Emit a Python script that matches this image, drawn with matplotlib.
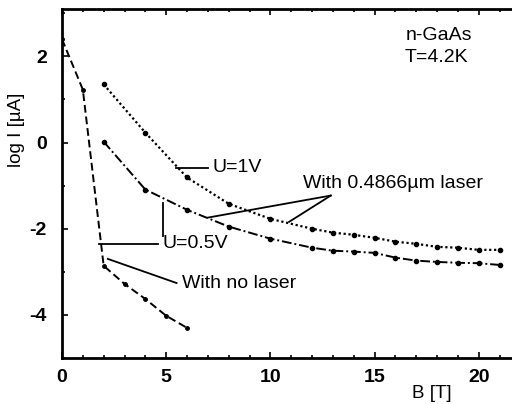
import numpy as np
import matplotlib.pyplot as plt
from matplotlib.ticker import MultipleLocator

plt.rcParams['font.family'] = ['Liberation Sans', 'DejaVu Sans']
plt.rcParams['axes.unicode_minus'] = False

# without laser
B_dark = [0, 1, 2, 3, 4, 5, 6]
logI_dark = [2.4, 1.23, -2.86, -3.28, -3.63, -4.02, -4.3]

# with 0.4866 um laser, U = 1 V
B_1V = [2, 4, 6, 8, 10, 12, 13, 14, 15, 16, 17, 18, 19, 20, 21]
logI_1V = [1.35, 0.23, -0.81, -1.42, -1.77, -2.0, -2.09, -2.14, -2.21,
           -2.3, -2.35, -2.42, -2.44, -2.49, -2.49]

# with 0.4866 um laser, U = 0.5 V
B_05V = [2, 4, 6, 8, 10, 12, 13, 14, 15, 16, 17, 18, 19, 20, 21]
logI_05V = [0.02, -1.09, -1.56, -1.95, -2.23, -2.44, -2.51, -2.53, -2.56,
            -2.67, -2.74, -2.77, -2.79, -2.8, -2.84]

fig = plt.figure(figsize=(5.12, 4.04), dpi=100)
ax = fig.add_axes([62/512, 46/404, 450/512, 349/404])

ax.plot(B_dark, logI_dark, color='k', ls=(0, (4, 2)), lw=1.4,
        marker='o', ms=2.5)
ax.plot(B_1V, logI_1V, color='k', ls=(0, (1, 1.2)), lw=1.6,
        marker='o', ms=3)
ax.plot(B_05V, logI_05V, color='k', ls=(0, (5, 1.5, 1, 1.5)), lw=1.4,
        marker='o', ms=3)

# leader lines for the labels
lk = dict(color='k', lw=1.3)
ax.plot([5.48, 7.0], [-0.58, -0.58], **lk)
ax.plot([1.78, 4.6], [-2.35, -2.35], **lk)
ax.plot([4.85, 4.85], [-1.4, -2.16], **lk)
ax.plot([2.2, 5.5], [-2.7, -3.26], **lk)
ax.plot([7.02, 12.9], [-1.74, -1.23], **lk)
ax.plot([10.9, 12.9], [-1.84, -1.23], **lk)

fs = 14
ax.text(7.2, -0.58, 'U=1V', fontsize=fs, va='center', ha='left')
ax.text(4.8, -2.35, 'U=0.5V', fontsize=fs, va='center', ha='left')
ax.text(5.75, -3.26, 'With no laser', fontsize=fs, va='center', ha='left')
ax.text(11.55, -0.95, 'With 0.4866\u00b5m laser', fontsize=fs,
        va='center', ha='left')
ax.text(18.1, 2.49, 'n-GaAs', fontsize=fs, va='center', ha='center')
ax.text(17.95, 1.98, 'T=4.2K', fontsize=fs, va='center', ha='center')

ax.set_xlim(0, 21.6)
ax.set_ylim(-5, 3.1)
ax.xaxis.set_major_locator(MultipleLocator(5))
ax.xaxis.set_minor_locator(MultipleLocator(1))
ax.yaxis.set_major_locator(MultipleLocator(2))
ax.yaxis.set_minor_locator(MultipleLocator(1))
ax.tick_params(which='both', direction='in', top=True, right=False,
               width=1.2, labelsize=14)
ax.tick_params(which='major', length=4)
ax.tick_params(which='minor', length=2.5)
for lab in ax.get_xticklabels() + ax.get_yticklabels():
    lab.set_fontweight('bold')
ax.tick_params(axis='x', pad=8)
ax.tick_params(axis='y', pad=11)

ax.spines['right'].set_visible(False)
for s in ['left', 'top', 'bottom']:
    ax.spines[s].set_linewidth(2)

ax.set_ylabel('log I [\u00b5A]', fontsize=13.5)
ax.yaxis.set_label_coords(-0.082, 0.653)
fig.text(432/512, 1 - 393/404, 'B [T]', fontsize=13.5, ha='center', va='center')

fig.savefig('out.png', dpi=100)
